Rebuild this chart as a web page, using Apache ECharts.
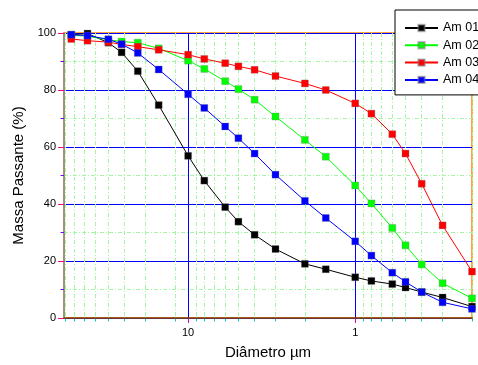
<!DOCTYPE html>
<html>
<head>
<meta charset="utf-8">
<script src="https://cdn.jsdelivr.net/npm/echarts@6/dist/echarts.min.js"></script>
<style>html,body{margin:0;padding:0;background:#fff}#c{width:478px;height:365px}</style>
</head>
<body>
<div id="c"></div>
<script>
const diameters = [50, 40, 30, 25, 20, 15, 10, 8, 6, 5, 4, 3, 2, 1.5, 1, 0.8, 0.6, 0.5, 0.4, 0.3, 0.2];
const seriesNames = ['Am 01', 'Am 02', 'Am 03', 'Am 04'];
const am01 = [99.4, 99.8, 96.6, 93.2, 86.6, 74.7, 56.9, 48.2, 38.9, 33.8, 29.2, 24.2, 19.0, 17.1, 14.3, 13.0, 11.9, 10.7, 9.1, 7.2, 4.0];
const am02 = [99.2, 98.9, 97.6, 97.0, 96.6, 94.6, 90.3, 87.4, 83.1, 80.3, 76.6, 70.7, 62.5, 56.6, 46.5, 40.2, 31.6, 25.5, 18.8, 12.2, 6.9];
const am03 = [97.9, 97.3, 96.8, 96.0, 95.2, 94.1, 92.4, 90.9, 89.4, 88.3, 87.1, 84.9, 82.3, 80.0, 75.3, 71.7, 64.5, 57.7, 47.1, 32.5, 16.3];
const am04 = [99.4, 99.1, 97.8, 96.1, 93.0, 87.2, 78.5, 73.7, 67.2, 63.1, 57.7, 50.3, 41.1, 35.1, 26.9, 21.9, 15.9, 12.7, 9.1, 5.5, 3.2];
const seriesColors = ['#000000', '#00ff00', '#ff0000', '#0000ff'];
const xMajorTicks = [10, 1];
const xMinorTicks = [54, 48, 42, 36, 30, 24, 18, 12, 9, 8, 7, 6, 5, 4, 3, 2, 0.9, 0.8, 0.7, 0.6, 0.5, 0.4, 0.3, 0.2];
const xMin = 0.2, xMax = 55.3;
const yTicks = [0, 20, 40, 60, 80, 100];

const FONT = 'Liberation Sans, Arial, Helvetica, sans-serif';
const allSeries = [am01, am02, am03, am04];

function decoAxis(ticks, tickLen, lineStyle, withLabels, tc) {
  return {
    type: 'log', logBase: 10, position: 'bottom', offset: 0,
    min: xMin, max: xMax, inverse: true,
    axisLine: { show: false, onZero: false },
    axisTick: { show: true, inside: false, length: tickLen, customValues: ticks,
                lineStyle: { color: tc, width: 1 } },
    axisLabel: withLabels ? {
      show: true, customValues: ticks, margin: 9,
      fontSize: 11, fontFamily: FONT, color: '#000',
      formatter: v => String(Math.round(v * 1000) / 1000)
    } : { show: false },
    splitLine: { show: true, lineStyle: lineStyle },
    minorTick: { show: false }, minorSplitLine: { show: false },
    z: withLabels ? 1 : 0
  };
}

const option = {
  animation: false,
  backgroundColor: '#fff',
  grid: { left: 64, right: 6, top: 33, bottom: 43, show: true, borderColor: '#ff8800', borderWidth: 1.5, backgroundColor: 'transparent' },
  legend: {
    data: seriesNames,
    orient: 'vertical', left: 395, top: 10,
    backgroundColor: '#fff', borderColor: '#000', borderWidth: 1,
    padding: [11, 12, 8, 9],
    itemWidth: 33, itemHeight: 8, itemGap: 3.3,
    textStyle: { fontSize: 12.5, fontFamily: FONT, color: '#000', lineHeight: 14 },
    z: 10
  },
  xAxis: [
    {
      type: 'log', logBase: 10, min: xMin, max: xMax, inverse: true, position: 'bottom',
      name: 'Diâmetro µm', nameLocation: 'middle', nameGap: 27,
      nameTextStyle: { fontSize: 15, fontFamily: FONT, color: '#000' },
      axisLine: { show: true, onZero: false, lineStyle: { color: '#884400', width: 1.5 } },
      axisTick: { show: false }, axisLabel: { show: false },
      splitLine: { show: false }, minorTick: { show: false }, z: 3
    },
    decoAxis(xMinorTicks, 3.5, { color: '#a6f5a6', width: 1, type: [4, 2, 1, 2] }, false, '#00cccc'),
    decoAxis(xMajorTicks, 5, { color: '#0000ff', width: 1 }, true, '#cc00cc')
  ],
  yAxis: {
    type: 'value', min: 0, max: 100, interval: 20, position: 'left',
    name: 'Massa Passante (%)', nameLocation: 'middle', nameGap: 35,
    nameTextStyle: { fontSize: 15, fontFamily: FONT, color: '#000' },
    axisLine: { show: true, onZero: false, lineStyle: { color: '#888888', width: 1.5 } },
    axisTick: { show: true, inside: false, length: 6, lineStyle: { color: '#ff0088' } },
    minorTick: { show: true, splitNumber: 2, length: 3.5, lineStyle: { color: '#8800ff' } },
    axisLabel: { fontSize: 11, fontFamily: FONT, color: '#000', margin: 8,
                 formatter: v => yTicks.includes(v) ? String(v) : '' },
    splitLine: { show: true, lineStyle: { color: '#0000ff', width: 1 } },
    minorSplitLine: { show: true, lineStyle: { color: '#a6f5a6', width: 1, type: [4, 2, 1, 2] } }
  },
  series: seriesNames.map((name, i) => ({
    name: name, type: 'line', xAxisIndex: 0,
    data: diameters.map((d, j) => [d, allSeries[i][j]]),
    symbol: 'rect', symbolSize: 7, showSymbol: true,
    lineStyle: { color: seriesColors[i], width: 1 },
    itemStyle: { color: seriesColors[i], borderColor: 'rgba(120,120,120,0.5)', borderWidth: 0.6 },
    z: 5 + i
  }))
};

const chart = echarts.init(document.getElementById('c'), null, { renderer: 'canvas' });
chart.setOption(option);
</script>
</body>
</html>
